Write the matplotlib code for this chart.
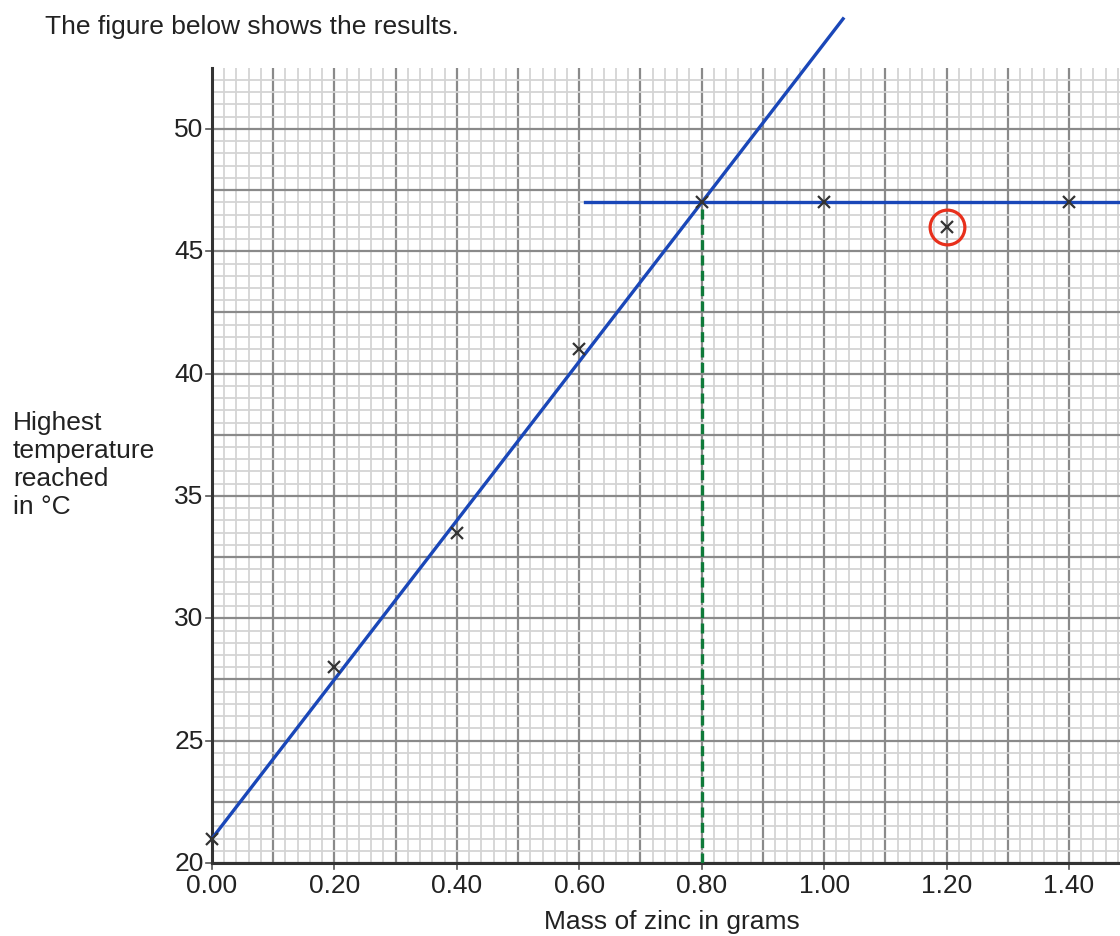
import matplotlib
matplotlib.use("Agg")
import matplotlib.pyplot as plt
from matplotlib.ticker import MultipleLocator

plt.rcParams["font.family"] = ["Liberation Sans", "DejaVu Sans"]

# data
mass = [0.00, 0.20, 0.40, 0.60, 0.80, 1.00, 1.20, 1.40]
temp = [21, 28, 33.5, 41, 47, 47, 46, 47]

# lines drawn on the graph
rise_x = [0.00, 1.031]
rise_y = [21, 54.5]
flat_x = [0.61, 1.50]
flat_y = [47, 47]
cross_x = 0.80
cross_y = 47
anomaly_x = 1.20
anomaly_y = 46

xticks = [0.00, 0.20, 0.40, 0.60, 0.80, 1.00, 1.20, 1.40]
yticks = [20, 25, 30, 35, 40, 45, 50]

fig = plt.figure(figsize=(11.2, 9.37), dpi=100)
ax = fig.add_axes([212 / 1120, 73 / 937, 908 / 1120, 795 / 937])

ax.set_xlim(0, 1.4834)
ax.set_ylim(20, 52.49)

# graph paper
ax.xaxis.set_major_locator(MultipleLocator(0.1))
ax.xaxis.set_minor_locator(MultipleLocator(0.02))
ax.yaxis.set_major_locator(MultipleLocator(2.5))
ax.yaxis.set_minor_locator(MultipleLocator(0.5))
ax.grid(which="minor", color="#d4d4d4", linewidth=1.3)
ax.grid(which="major", color="#8a8a8a", linewidth=1.6)
ax.set_axisbelow(True)
ax.tick_params(which="both", length=0, labelleft=False, labelbottom=False)

for side in ["top", "right"]:
    ax.spines[side].set_visible(False)
for side in ["left", "bottom"]:
    ax.spines[side].set_color("#333333")
    ax.spines[side].set_linewidth(2.2)

# labelled ticks
for t in xticks:
    ax.annotate(f"{t:.2f}", (t, 20), xytext=(0, -7), textcoords="offset points",
                ha="center", va="top", fontsize=19, color="#222222",
                annotation_clip=False)
    ax.plot([t, t], [20, 19.75], color="#555555", lw=1.2, clip_on=False)
for t in yticks:
    ax.annotate(f"{t}", (0, t), xytext=(-6, 0), textcoords="offset points",
                ha="right", va="center", fontsize=19, color="#222222",
                annotation_clip=False)
    ax.plot([0, -0.009], [t, t], color="#555555", lw=1.2, clip_on=False)

ax.plot(mass, temp, linestyle="none", marker="x", color="#333333",
        markersize=9, markeredgewidth=1.6, zorder=5, clip_on=False)

ax.plot(rise_x, rise_y, color="#1a47b8", lw=2.4, zorder=4, clip_on=False)
ax.plot(flat_x, flat_y, color="#1a47b8", lw=2.4, zorder=4)
ax.plot([cross_x, cross_x], [20, cross_y], color="#0f7a3a", lw=2.4,
        linestyle=(0, (3, 1.6)), zorder=3)
ax.plot([anomaly_x], [anomaly_y], marker="o", markersize=25,
        markerfacecolor="none", markeredgecolor="#e8301c",
        markeredgewidth=2.3, zorder=6)

fig.text(45 / 1120, 1 - 27 / 937, "The figure below shows the results.",
         fontsize=19, color="#222222", va="center", ha="left")
fig.text(13 / 1120, 1 - 465 / 937, "Highest\ntemperature\nreached\nin °C",
         fontsize=19, color="#222222", va="center", ha="left", linespacing=1.22)
fig.text(672 / 1120, 1 - 922 / 937, "Mass of zinc in grams",
         fontsize=19, color="#222222", va="center", ha="center")

fig.savefig("out.png", dpi=100)
